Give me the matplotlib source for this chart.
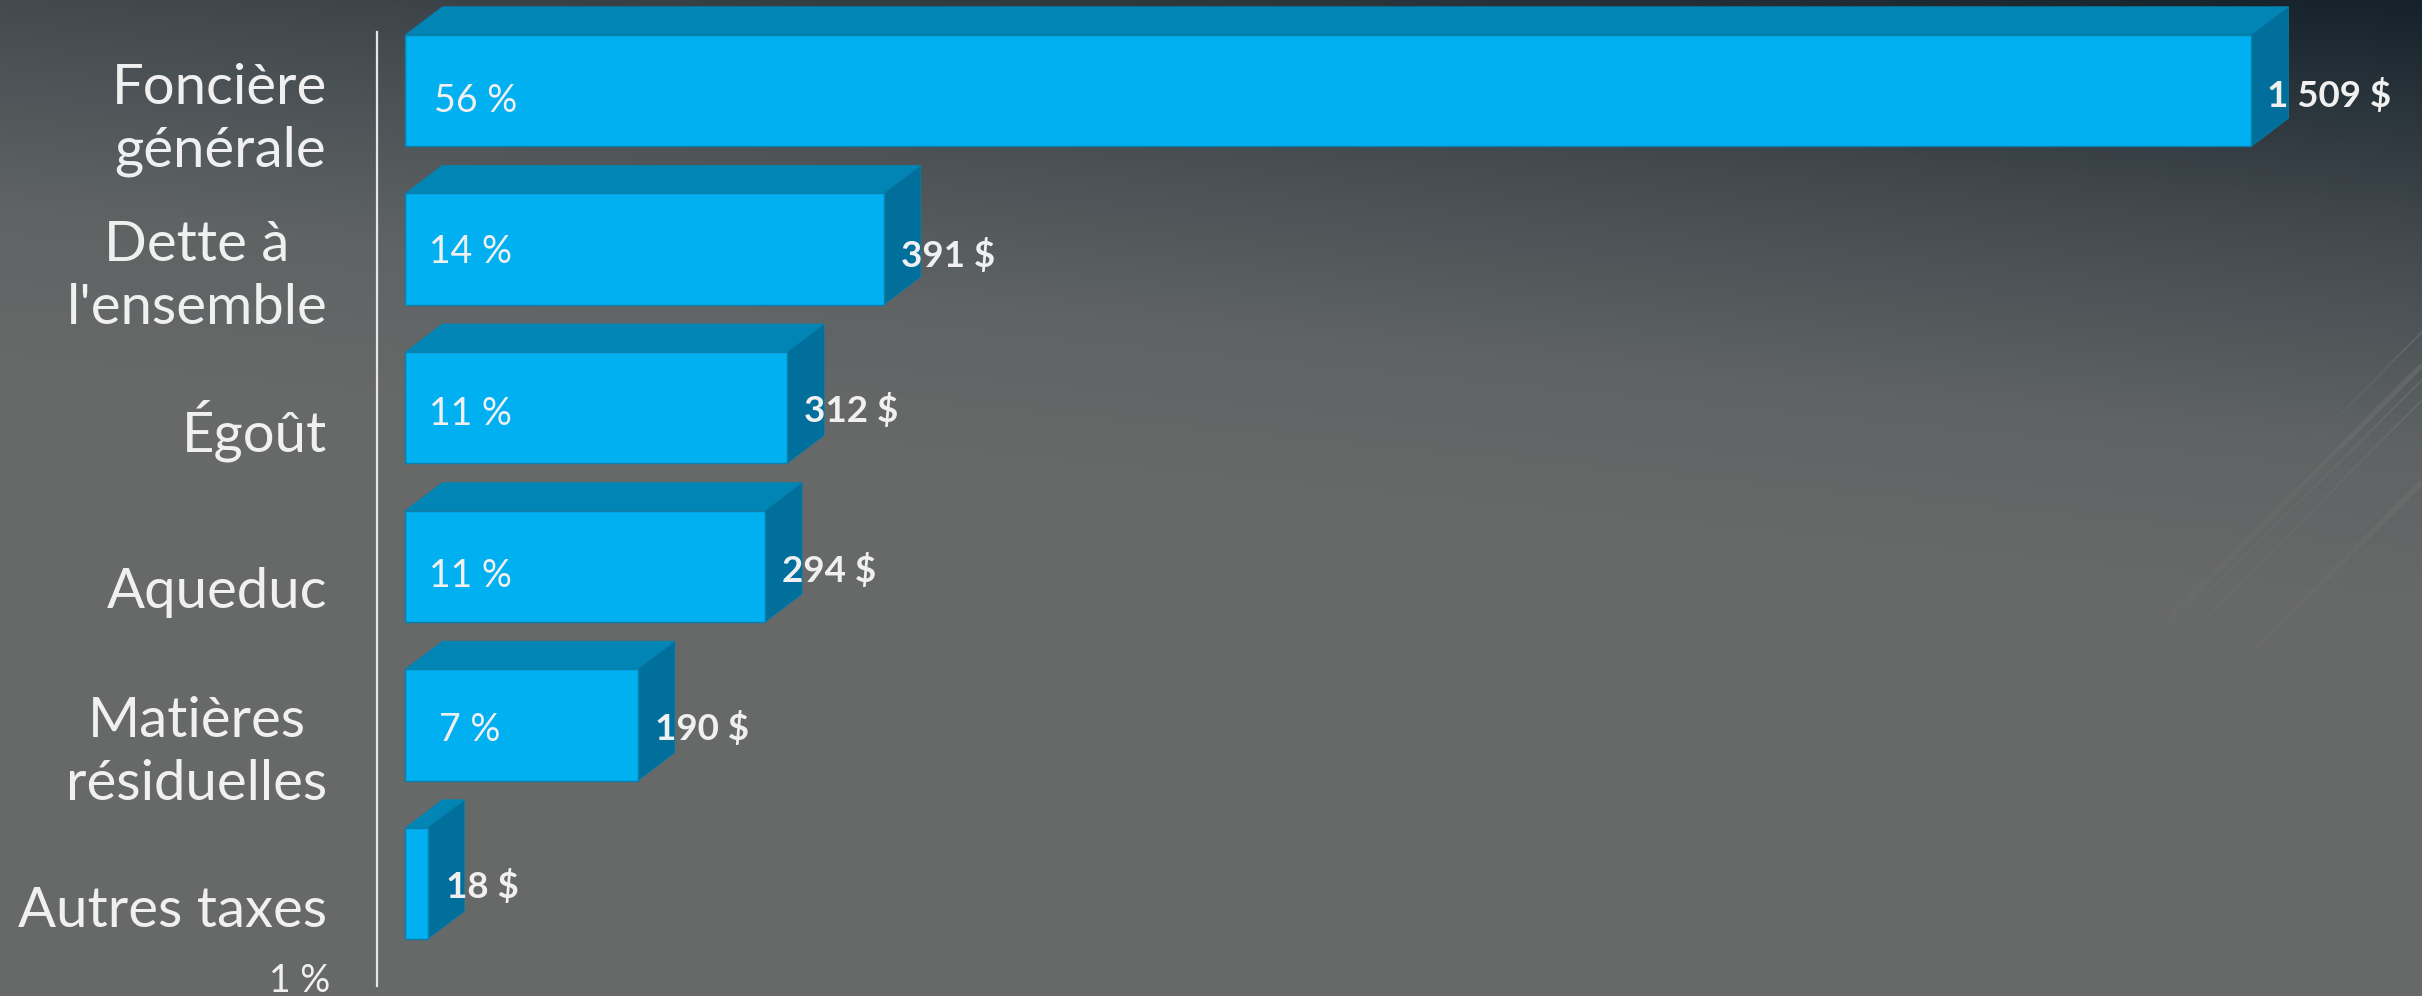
import numpy as np
import matplotlib
matplotlib.use('Agg')
import matplotlib.pyplot as plt
from matplotlib.patches import Polygon
from matplotlib.colors import LinearSegmentedColormap

# chart values
categories = ['Foncière\ngénérale', "Dette à\nl'ensemble", 'Égoût', 'Aqueduc', 'Matières\nrésiduelles', 'Autres taxes']
values = [1509, 391, 312, 294, 190, 18]
value_labels = ['1 509 $', '391 $', '312 $', '294 $', '190 $', '18 $']
percent_labels = ['56 %', '14 %', '11 %', '11 %', '7 %', '1 %']

W = 2422; H = 996
plt.rcParams['font.family'] = ['Lato', 'DejaVu Sans']
fig = plt.figure(figsize=(W/100, H/100), dpi=100)

# background gradient, dark in the top right corner
bg = fig.add_axes([0, 0, 1, 1])
xx, yy = np.meshgrid(np.arange(W), np.arange(H))
d = (yy + 0.1*(W - xx))/600.0
cmap = LinearSegmentedColormap.from_list('bg', [(0, '#15222b'), (0.4, '#434a4f'), (0.75, '#5f6364'), (1, '#676968')])
bg.imshow(np.clip(d, 0, 1), cmap=cmap, vmin=0, vmax=1, extent=(0, W, H, 0), aspect='auto')
# faint streaks on the right
streaks = [((2315, 440), (2422, 332), 2), ((2138, 650), (2422, 365), 5), ((2100, 700), (2422, 380), 2),
           ((2125, 700), (2422, 400), 2), ((2238, 667), (2422, 482), 5)]
for a, b, lw in streaks:
    t = np.linspace(0, 1, 30)
    for k in range(29):
        xa = a[0] + (b[0]-a[0])*t[k]; xb = a[0] + (b[0]-a[0])*t[k+1]
        ya = a[1] + (b[1]-a[1])*t[k]; yb = a[1] + (b[1]-a[1])*t[k+1]
        bg.plot([xa, xb], [ya, yb], color='#727272', lw=lw*0.72, alpha=0.15 + 0.4*t[k], solid_capstyle='butt')
bg.set_xlim(0, W); bg.set_ylim(H, 0)
bg.axis('off')

# main axes: x in dollars, y in category positions
ax = fig.add_axes([0, 0, 1, 1])
ax.patch.set_alpha(0)
x_scale = 1846/1509.0 # px per dollar
pitch = 158.6
x0 = 405.5; y0 = 90.5
ax.set_xlim(-x0/x_scale, (W-x0)/x_scale)
ax.set_ylim((H-y0)/pitch, -y0/pitch)
ax.axis('off')

barheight = 0.703
dx = 37/x_scale; dy = 28/pitch
front = '#00b0f0'; top = '#0085b5'; side = '#006f9c'; edge = '#0b7fab'
pos = np.arange(len(values))

ax.barh(pos, values, height=barheight, color=front, edgecolor=edge, linewidth=1, zorder=3)
for p, v in zip(pos, values):
    yt = p - barheight/2; yb = p + barheight/2
    ax.add_patch(Polygon([(0, yt), (dx, yt-dy), (v+dx, yt-dy), (v, yt)], closed=True, fc=top, ec=top, lw=0.5, zorder=2))
    ax.add_patch(Polygon([(v, yt), (v+dx, yt-dy), (v+dx, yb-dy), (v, yb)], closed=True, fc=side, ec=edge, lw=0.5, zorder=2))

# axis line
ax.plot([-28.5/x_scale, -28.5/x_scale], [(32-y0)/pitch, (986-y0)/pitch], color='#e6e6e6', lw=1.6, zorder=4)

txt = '#f0f0f0'
# category labels, lines centred on each other, right edge fixed
label_y = [120, 277, 431, 592, 753, 911] # pixel centre of each label
for p, c, ly in zip(pos, categories, label_y):
    ax.annotate(c, xy=(0, p), xytext=(-78, -(ly - y0 - p*pitch)), textcoords='offset pixels',
                ha='right', va='center', multialignment='center', fontsize=40.5, color=txt,
                linespacing=1.3, zorder=5)

# value labels right of bar, bold
val_off = [(16, -4.5), (17, -6), (17, -3), (17, -4), (17, -4), (18, -3)]
for p, v, s, o in zip(pos, values, value_labels, val_off):
    ax.annotate(s, xy=(v, p), xytext=o, textcoords='offset pixels', ha='left', va='center',
                fontsize=26.5, weight='bold', color=txt, zorder=5)

# percent labels
pct_x = [29, 24, 24, 24, 34, -136]
pct_y = [-11, -3, -6, -10, -5, -97]
for p, s, ox, oy in zip(pos, percent_labels, pct_x, pct_y):
    ax.annotate(s, xy=(0, p), xytext=(ox, oy), textcoords='offset pixels', ha='left', va='center',
                fontsize=27, color=txt, zorder=5)

fig.savefig('out.png', dpi=100)
